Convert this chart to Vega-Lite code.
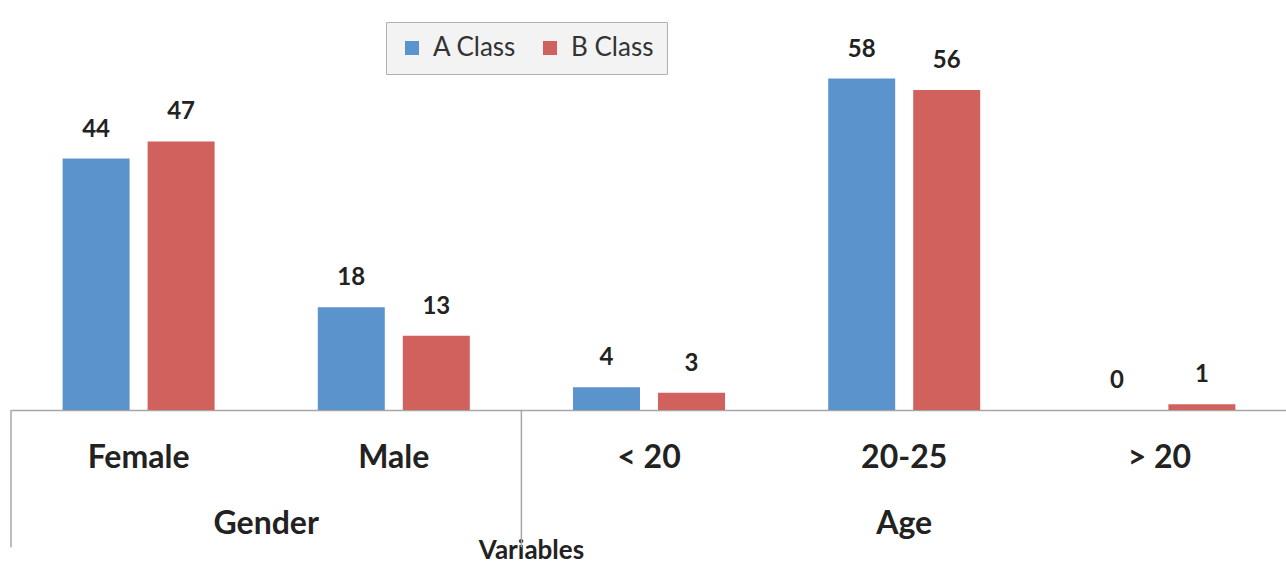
{
  "$schema": "https://vega.github.io/schema/vega-lite/v6.json",
  "width": 1276,
  "height": 400,
  "padding": {"left": 10, "top": 10, "right": 0, "bottom": 0},
  "background": "white",
  "config": {"view": {"stroke": null}, "font": "Lato"},
  "datasets": {
    "bars": [
      {"category": "Female", "group": "Gender", "cls": "A Class", "value": 44},
      {"category": "Female", "group": "Gender", "cls": "B Class", "value": 47},
      {"category": "Male", "group": "Gender", "cls": "A Class", "value": 18},
      {"category": "Male", "group": "Gender", "cls": "B Class", "value": 13},
      {"category": "< 20", "group": "Age", "cls": "A Class", "value": 4},
      {"category": "< 20", "group": "Age", "cls": "B Class", "value": 3},
      {"category": "20-25", "group": "Age", "cls": "A Class", "value": 58},
      {"category": "20-25", "group": "Age", "cls": "B Class", "value": 56},
      {"category": "> 20", "group": "Age", "cls": "A Class", "value": 0},
      {"category": "> 20", "group": "Age", "cls": "B Class", "value": 1}
    ]
  },
  "layer": [
    {
      "data": {"name": "bars"},
      "mark": {"type": "bar"},
      "encoding": {
        "x": {
          "field": "category", "type": "nominal",
          "sort": ["Female", "Male", "< 20", "20-25", "> 20"],
          "scale": {"paddingInner": 0, "paddingOuter": 0},
          "axis": {
            "title": "Variables",
            "titleFont": "Lato", "titleFontSize": 26, "titleFontWeight": "bold", "titleColor": "#222",
            "titleAlign": "center", "titleX": 520, "titleY": 148, "titleBaseline": "alphabetic",
            "labelFont": "Lato", "labelFontSize": 32, "labelFontWeight": "bold", "labelColor": "#222",
            "labelPadding": 32, "labelAngle": 0,
            "ticks": false,
            "domainColor": "#a6a6a6", "domainWidth": 1.5
          }
        },
        "xOffset": {
          "field": "cls", "type": "nominal",
          "scale": {"paddingInner": 0.212, "paddingOuter": 0.607}
        },
        "y": {
          "field": "value", "type": "quantitative",
          "scale": {"domain": [0, 70], "nice": false},
          "axis": null
        },
        "color": {
          "field": "cls", "type": "nominal",
          "scale": {"domain": ["A Class", "B Class"], "range": ["#5b93cd", "#d0615d"]},
          "legend": {
            "title": null,
            "orient": "none", "legendX": 375, "legendY": 12,
            "direction": "horizontal",
            "symbolType": "square", "symbolSize": 196, "symbolStrokeWidth": 0,
            "labelFont": "Lato", "labelFontSize": 26, "labelColor": "#333",
            "labelOffset": 8, "columnPadding": 20,
            "padding": 13,
            "strokeColor": "#b0b0b0", "fillColor": "#f3f3f3"
          }
        }
      }
    },
    {
      "data": {"name": "bars"},
      "mark": {"type": "text", "baseline": "alphabetic", "dy": -22, "font": "Lato", "fontWeight": "bold", "fontSize": 24, "color": "#222"},
      "encoding": {
        "x": {"field": "category", "type": "nominal", "sort": ["Female", "Male", "< 20", "20-25", "> 20"]},
        "xOffset": {"field": "cls", "type": "nominal"},
        "y": {"field": "value", "type": "quantitative"},
        "text": {"field": "value", "type": "quantitative"}
      }
    },
    {
      "data": {"values": [{"category": "Female"}, {"category": "< 20"}]},
      "mark": {"type": "rule", "color": "#a6a6a6", "strokeWidth": 1.5},
      "encoding": {
        "x": {"field": "category", "type": "nominal", "bandPosition": 0, "sort": ["Female", "Male", "< 20", "20-25", "> 20"]},
        "y": {"datum": 0, "type": "quantitative"},
        "y2": {"datum": -24}
      }
    },
    {
      "data": {"values": [{"category": "Male", "label": "Gender"}]},
      "mark": {"type": "text", "baseline": "middle", "font": "Lato", "fontWeight": "bold", "fontSize": 32, "color": "#222"},
      "encoding": {
        "x": {"field": "category", "type": "nominal", "bandPosition": 0, "sort": ["Female", "Male", "< 20", "20-25", "> 20"]},
        "y": {"datum": -20, "type": "quantitative"},
        "text": {"field": "label"}
      }
    },
    {
      "data": {"values": [{"category": "20-25", "label": "Age"}]},
      "mark": {"type": "text", "baseline": "middle", "font": "Lato", "fontWeight": "bold", "fontSize": 32, "color": "#222"},
      "encoding": {
        "x": {"field": "category", "type": "nominal", "bandPosition": 0.5, "sort": ["Female", "Male", "< 20", "20-25", "> 20"]},
        "y": {"datum": -20, "type": "quantitative"},
        "text": {"field": "label"}
      }
    }
  ]
}
